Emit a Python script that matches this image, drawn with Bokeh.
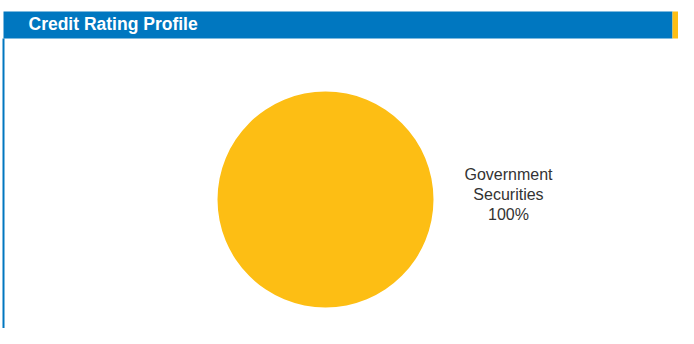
import numpy as np
from bokeh.plotting import figure
from bokeh.models import Range1d, Label
from bokeh.core.properties import value
from bokeh.embed import file_html
from bokeh.resources import INLINE

title_text = "Credit Rating Profile"
categories = ["Government Securities"]
values = [100]
colors = ["#FDBE14"]

W, H = 678, 328
p = figure(width=W, height=H, output_backend="svg", toolbar_location=None,
           x_range=Range1d(0, W), y_range=Range1d(H, 0),
           min_border=0, outline_line_color=None)
p.axis.visible = False
p.grid.visible = False
p.background_fill_color = "white"
p.border_fill_color = "white"

# header bar
p.quad(left=3, right=672, top=11, bottom=38, fill_color="#0077C0", line_color=None)
p.quad(left=672, right=700, top=11, bottom=38, fill_color="#FDBE14", line_color=None)
# left border
p.quad(left=2, right=4, top=38, bottom=400, fill_color="#0077C0", line_color=None)

p.add_layout(Label(x=28, y=23, text=title_text, text_color="white",
                   text_font="Liberation Sans", text_font_style="bold",
                   text_font_size="17.5px", text_baseline="middle"))

# pie
total = sum(values)
angles = np.cumsum([0] + [v / total * 2 * np.pi for v in values])
cx, cy, r = 325, 199, 108
for i, c in enumerate(categories):
    p.wedge(x=cx, y=cy, radius=r, start_angle=angles[i], end_angle=angles[i + 1],
            fill_color=colors[i], line_color=None)

labels = [c.replace(" ", "\n") + "\n" + f"{v}%" for c, v in zip(categories, values)]
p.text(x=[508], y=[194], text=labels, text_align="center", text_baseline="middle",
       text_font=value("Liberation Sans"), text_font_size="16px", text_color="#333333",
       text_line_height=1.16)

open("out.html", "w").write(file_html(p, INLINE))
